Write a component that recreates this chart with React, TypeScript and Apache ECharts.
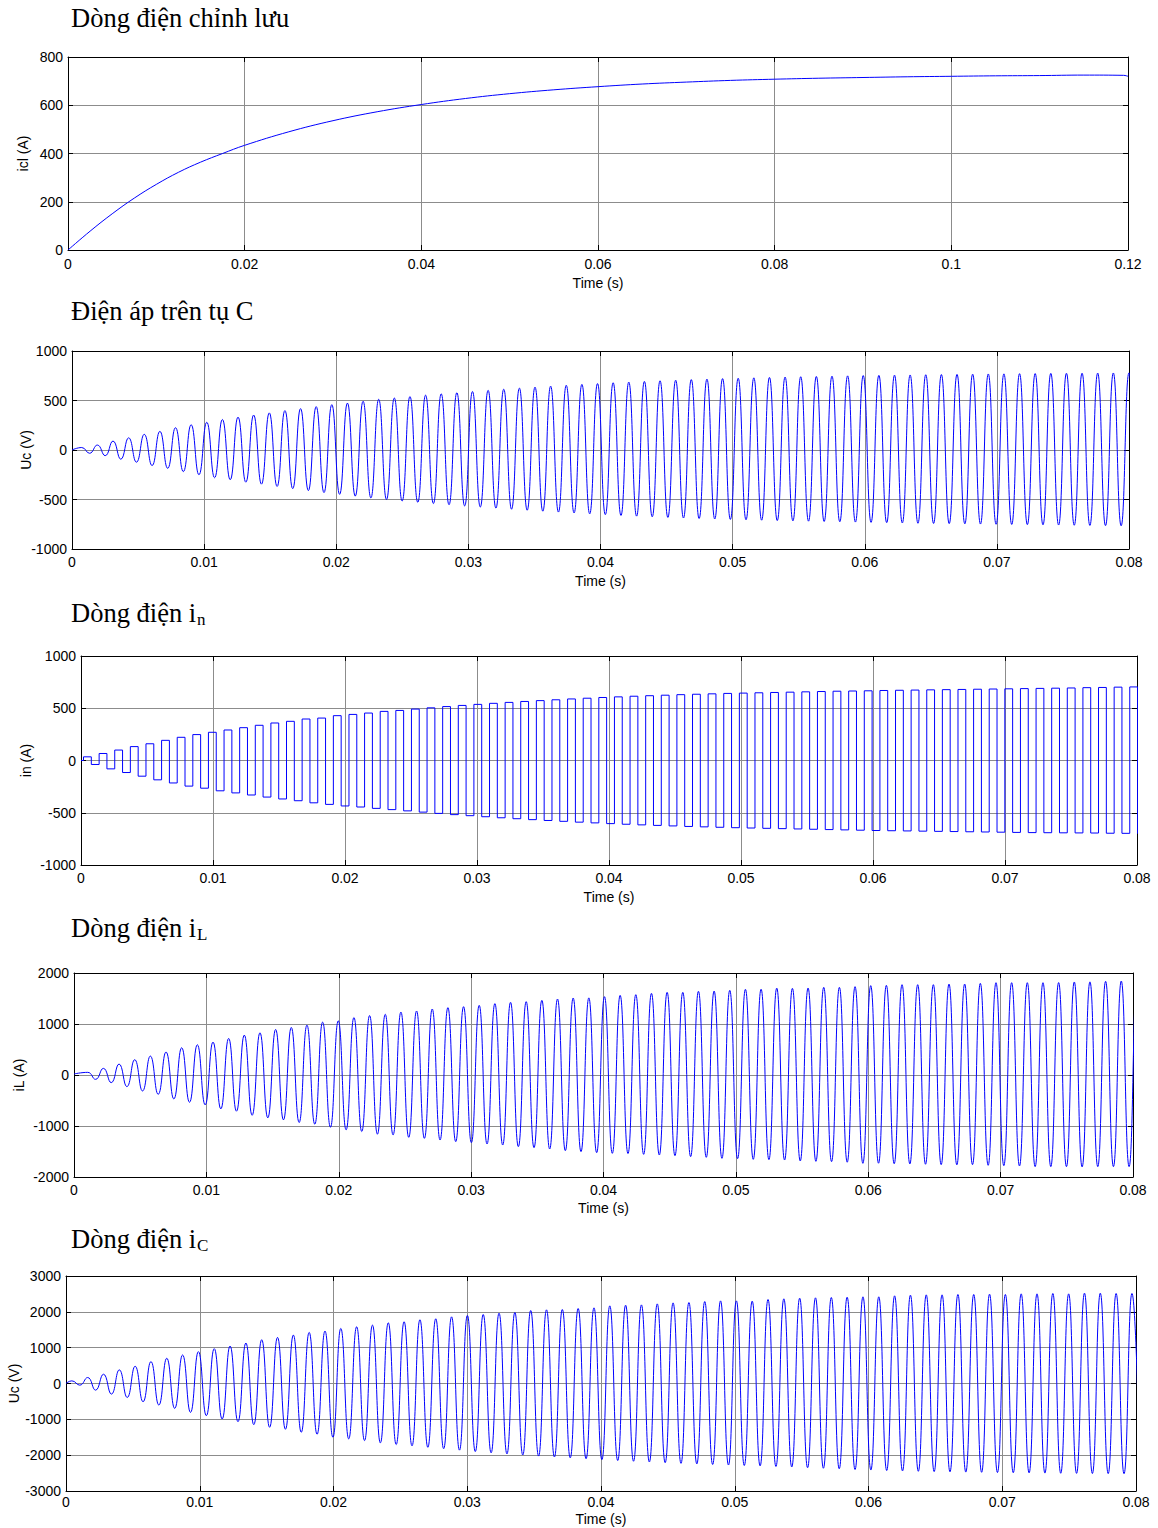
import React, { useEffect, useRef } from "react";
import * as echarts from "echarts";

// ---------- shared oscillation timing ----------
const PERIOD = 0.001183; // s, spacing between successive peaks
const FIRST_PEAK = 0.000736; // s, first Uc peak
const UC_SHIFT = 0;
const IN_SHIFT = -0.00025;
const IL_SHIFT = 0.0003;
const IC_SHIFT = -0.0003;

// ---------- plot 1: rectifier current icl ----------
const ICL_T = [0, 0.0025, 0.005, 0.0075, 0.01, 0.0125, 0.015, 0.0175, 0.02, 0.025, 0.03, 0.035, 0.04, 0.045, 0.05, 0.055, 0.06, 0.065, 0.07, 0.075, 0.08, 0.085, 0.09, 0.095, 0.1, 0.105, 0.11, 0.115, 0.1195, 0.12];
const ICL_V = [0, 78, 150, 215, 272, 322, 364, 400, 434, 490, 536, 573, 603, 628, 648, 664, 677, 688, 696, 703, 708, 712, 715, 718, 720, 722, 723, 725, 724, 720];

// ---------- plot 2: capacitor voltage Uc (peak / following trough per cycle) ----------
const UC_PEAKS = [25, 50, 90, 123, 158, 188, 225, 255, 280, 308, 332, 353, 375, 398, 418, 438, 458, 474, 492, 512, 525, 540, 554, 567, 579, 591, 603, 614, 625, 635, 645, 654, 663, 671, 679, 686, 693, 699, 705, 711, 716, 721, 725, 729, 733, 737, 740, 743, 746, 749, 752, 754, 756, 758, 760, 762, 764, 766, 768, 769, 771, 772, 774, 775, 776, 777, 778, 779];
const UC_TROUGHS = [-33, -57, -93, -123, -157, -185, -218, -250, -280, -300, -325, -345, -368, -390, -410, -430, -448, -466, -484, -500, -515, -528, -541, -553, -565, -576, -587, -598, -608, -618, -627, -636, -645, -653, -661, -668, -675, -681, -687, -692, -697, -701, -705, -709, -713, -716, -719, -722, -725, -728, -731, -734, -737, -740, -742, -744, -746, -748, -750, -752, -754, -756, -758, -760, -762, -764, -766, -768];

// ---------- plot 3: inverter current in (positive / negative level per cycle) ----------
const IN_POS = [35, 67, 100, 133, 160, 193, 222, 248, 270, 292, 314, 337, 359, 375, 397, 406, 429, 441, 454, 470, 479, 492, 504, 516, 527, 537, 547, 556, 565, 573, 581, 589, 596, 603, 609, 615, 620, 625, 630, 634, 638, 642, 645, 648, 651, 654, 657, 660, 663, 665, 667, 670, 672, 674, 676, 678, 680, 682, 684, 686, 688, 690, 692, 694, 697, 699, 702, 704];
const IN_NEG = [-38, -80, -115, -150, -185, -215, -245, -265, -290, -310, -330, -350, -368, -385, -405, -420, -435, -445, -458, -470, -482, -494, -506, -518, -528, -538, -548, -557, -566, -574, -582, -590, -597, -604, -610, -616, -621, -626, -631, -635, -639, -643, -646, -649, -652, -655, -658, -661, -664, -667, -670, -672, -674, -676, -678, -680, -682, -684, -686, -688, -690, -691, -692, -693, -694, -696, -697, -698];

// ---------- plot 4: inductor current iL ----------
const IL_PEAKS = [52, 130, 215, 300, 371, 450, 534, 593, 645, 717, 782, 827, 893, 932, 977, 1036, 1062, 1127, 1166, 1190, 1234, 1255, 1294, 1320, 1340, 1366, 1399, 1425, 1438, 1464, 1490, 1510, 1512, 1536, 1562, 1575, 1601, 1621, 1621, 1641, 1647, 1660, 1680, 1682, 1704, 1699, 1706, 1719, 1719, 1732, 1752, 1758, 1771, 1771, 1771, 1784, 1784, 1797, 1810, 1810, 1810, 1810, 1812, 1824, 1826, 1837, 1843, 1845];
const IL_TROUGHS = [-85, -150, -228, -313, -378, -469, -534, -586, -664, -710, -790, -840, -880, -932, -964, -1023, -1075, -1108, -1160, -1175, -1222, -1242, -1275, -1307, -1327, -1353, -1373, -1405, -1425, -1451, -1484, -1503, -1523, -1536, -1540, -1556, -1569, -1582, -1601, -1614, -1634, -1640, -1654, -1660, -1667, -1686, -1693, -1699, -1710, -1732, -1730, -1740, -1745, -1750, -1758, -1762, -1758, -1771, -1778, -1784, -1797, -1797, -1797, -1803, -1797, -1797, -1797, -1800];

// ---------- plot 5: capacitor current iC ----------
const IC_PEAKS = [74, 167, 259, 380, 481, 611, 704, 796, 889, 972, 1046, 1130, 1222, 1287, 1352, 1426, 1463, 1537, 1583, 1630, 1694, 1722, 1778, 1806, 1861, 1898, 1926, 1963, 1981, 2037, 2056, 2065, 2093, 2111, 2167, 2185, 2194, 2222, 2250, 2259, 2287, 2306, 2306, 2300, 2344, 2363, 2381, 2391, 2400, 2409, 2419, 2419, 2447, 2465, 2474, 2474, 2484, 2484, 2493, 2484, 2502, 2502, 2512, 2502, 2521, 2521, 2512, 2512];
const IC_TROUGHS = [-46, -185, -296, -389, -509, -602, -694, -806, -898, -991, -1065, -1148, -1222, -1278, -1361, -1417, -1500, -1546, -1593, -1657, -1704, -1740, -1780, -1820, -1860, -1900, -1935, -1965, -1995, -2025, -2050, -2075, -2100, -2125, -2150, -2170, -2190, -2210, -2228, -2245, -2260, -2275, -2288, -2300, -2315, -2330, -2350, -2365, -2380, -2400, -2415, -2428, -2440, -2450, -2458, -2465, -2472, -2478, -2485, -2490, -2495, -2500, -2505, -2508, -2512, -2515, -2518, -2521];

// ---------- axis / titles ----------
const TITLES = ["Dòng điện chỉnh lưu", "Điện áp trên tụ C", "Dòng điện i", "Dòng điện i", "Dòng điện i"];
const TITLE_SUBS = ["", "", "n", "L", "C"];
const Y_NAMES = ["icl (A)", "Uc (V)", "in (A)", "iL (A)", "Uc (V)"];
const X_MAX = [0.12, 0.08, 0.08, 0.08, 0.08];
const X_STEP = [0.02, 0.01, 0.01, 0.01, 0.01];
const Y_MIN = [0, -1000, -1000, -2000, -3000];
const Y_MAX = [800, 1000, 1000, 2000, 3000];
const Y_STEP = [200, 500, 500, 1000, 1000];

// layout (pixels)
const GRIDS = [
  { left: 68, top: 57, width: 1060, height: 193 },
  { left: 72, top: 351, width: 1057, height: 198 },
  { left: 81, top: 656, width: 1056, height: 209 },
  { left: 74, top: 973, width: 1059, height: 204 },
  { left: 66, top: 1276, width: 1070, height: 215 },
];
const Y_NAME_GAP = [38, 39, 48, 48, 45];
const X_NAME_GAP = [26, 25, 25, 24, 21];
const X_LABEL_MARGIN = [7, 6, 6, 6, 4];
const TITLE_Y = [18, 311, 613, 928, 1239];
const SUB_Y = [0, 0, 619, 934, 1245];

const SANS = "'Liberation Sans', Arial, sans-serif";
const SERIF = "'Liberation Serif', 'Times New Roman', serif";
const TITLE_SIZE = 26.5;
const SUB_SIZE = 17;

function oscPoints(peaks: number[], troughs: number[], shift: number, start: number) {
  const pts: number[][] = [[0, start]];
  peaks.forEach((p, n) => {
    const tp = FIRST_PEAK + shift + n * PERIOD;
    pts.push([tp, p]);
    pts.push([tp + PERIOD / 2, troughs[n]]);
  });
  return pts;
}

function squarePoints(pos: number[], neg: number[], shift: number) {
  const pts: number[][] = [[0, 0]];
  pos.forEach((p, n) => {
    const c = FIRST_PEAK + shift + n * PERIOD;
    pts.push([c - PERIOD / 4, p]);
    pts.push([c + PERIOD / 4, neg[n]]);
  });
  const last = FIRST_PEAK + shift + (pos.length - 1) * PERIOD;
  pts.push([last + (3 * PERIOD) / 4, neg[neg.length - 1]]);
  return pts;
}

function measure(text: string, font: string) {
  const ctx = document.createElement("canvas").getContext("2d");
  if (!ctx) return text.length * 10;
  ctx.font = font;
  return ctx.measureText(text).width;
}

export default function App() {
  const ref = useRef<HTMLDivElement>(null);

  useEffect(() => {
    if (!ref.current) return;
    const chart = echarts.init(ref.current, undefined, { renderer: "svg" });

    const fmt = (v: number) => String(+v.toFixed(4));
    const xAxes: any[] = [];
    const yAxes: any[] = [];
    GRIDS.forEach((_, i) => {
      const common = {
        type: "value",
        gridIndex: i,
        axisLine: { show: true, onZero: false, lineStyle: { color: "#000", width: 1 } },
        axisTick: { show: true, inside: true, length: 5, lineStyle: { color: "#000", width: 1 } },
      };
      xAxes.push({
        ...common,
        position: "bottom",
        min: 0,
        max: X_MAX[i],
        interval: X_STEP[i],
        axisLabel: { color: "#000", fontSize: 14, fontFamily: SANS, margin: X_LABEL_MARGIN[i], formatter: fmt },
        splitLine: { show: true, lineStyle: { color: "#8c8c8c", width: 1 } },
        name: "Time (s)",
        nameLocation: "middle",
        nameGap: X_NAME_GAP[i],
        nameMoveOverlap: false,
        nameTextStyle: { color: "#000", fontSize: 14, fontFamily: SANS },
      });
      xAxes.push({
        ...common,
        position: "top",
        min: 0,
        max: X_MAX[i],
        interval: X_STEP[i],
        axisLabel: { show: false },
        splitLine: { show: false },
      });
      yAxes.push({
        ...common,
        position: "left",
        min: Y_MIN[i],
        max: Y_MAX[i],
        interval: Y_STEP[i],
        axisLabel: { color: "#000", fontSize: 14, fontFamily: SANS, margin: 5, formatter: fmt },
        splitLine: { show: true, lineStyle: { color: "#8c8c8c", width: 1 } },
        name: Y_NAMES[i],
        nameLocation: "middle",
        nameRotate: 90,
        nameGap: Y_NAME_GAP[i],
        nameMoveOverlap: false,
        nameTextStyle: { color: "#000", fontSize: 14, fontFamily: SANS },
      });
      yAxes.push({
        ...common,
        position: "right",
        min: Y_MIN[i],
        max: Y_MAX[i],
        interval: Y_STEP[i],
        axisLabel: { show: false },
        splitLine: { show: false },
      });
    });

    const lineBase = {
      type: "line",
      showSymbol: false,
      symbol: "none",
      clip: true,
      lineStyle: { color: "#0000ff", width: 1 },
      itemStyle: { color: "#0000ff" },
      silent: true,
    };

    const series: any[] = [
      { ...lineBase, xAxisIndex: 0, yAxisIndex: 0, smooth: 0.4, data: ICL_T.map((t, k) => [t, ICL_V[k]]) },
      { ...lineBase, xAxisIndex: 2, yAxisIndex: 2, smooth: 0.5, data: oscPoints(UC_PEAKS, UC_TROUGHS, UC_SHIFT, 0) },
      { ...lineBase, xAxisIndex: 4, yAxisIndex: 4, step: "end", data: squarePoints(IN_POS, IN_NEG, IN_SHIFT) },
      { ...lineBase, xAxisIndex: 6, yAxisIndex: 6, smooth: 0.5, data: oscPoints(IL_PEAKS, IL_TROUGHS, IL_SHIFT, 20) },
      { ...lineBase, xAxisIndex: 8, yAxisIndex: 8, smooth: 0.5, data: oscPoints(IC_PEAKS, IC_TROUGHS, IC_SHIFT, 0) },
    ];

    const titleFont = `${TITLE_SIZE}px ${SERIF}`;
    const graphics: any[] = [];
    TITLES.forEach((t, i) => {
      graphics.push({
        type: "text",
        x: 71,
        y: TITLE_Y[i],
        silent: true,
        style: { text: t, fontSize: TITLE_SIZE, fontFamily: SERIF, fill: "#000", align: "left", verticalAlign: "middle" },
      });
      if (TITLE_SUBS[i]) {
        const w = measure(t, titleFont);
        graphics.push({
          type: "text",
          x: 71 + w + 1,
          y: SUB_Y[i],
          silent: true,
          style: { text: TITLE_SUBS[i], fontSize: SUB_SIZE, fontFamily: SERIF, fill: "#000", align: "left", verticalAlign: "middle" },
        });
      }
    });

    chart.setOption({
      animation: false,
      backgroundColor: "#fff",
      grid: GRIDS.map((g) => ({ ...g, containLabel: false, outerBoundsMode: "none" })),
      xAxis: xAxes,
      yAxis: yAxes,
      series,
      graphic: graphics,
    });

    return () => chart.dispose();
  }, []);

  return (
    <div
      ref={ref}
      style={{ position: "absolute", left: 0, top: 0, width: 1158, height: 1528, background: "#fff" }}
    />
  );
}
